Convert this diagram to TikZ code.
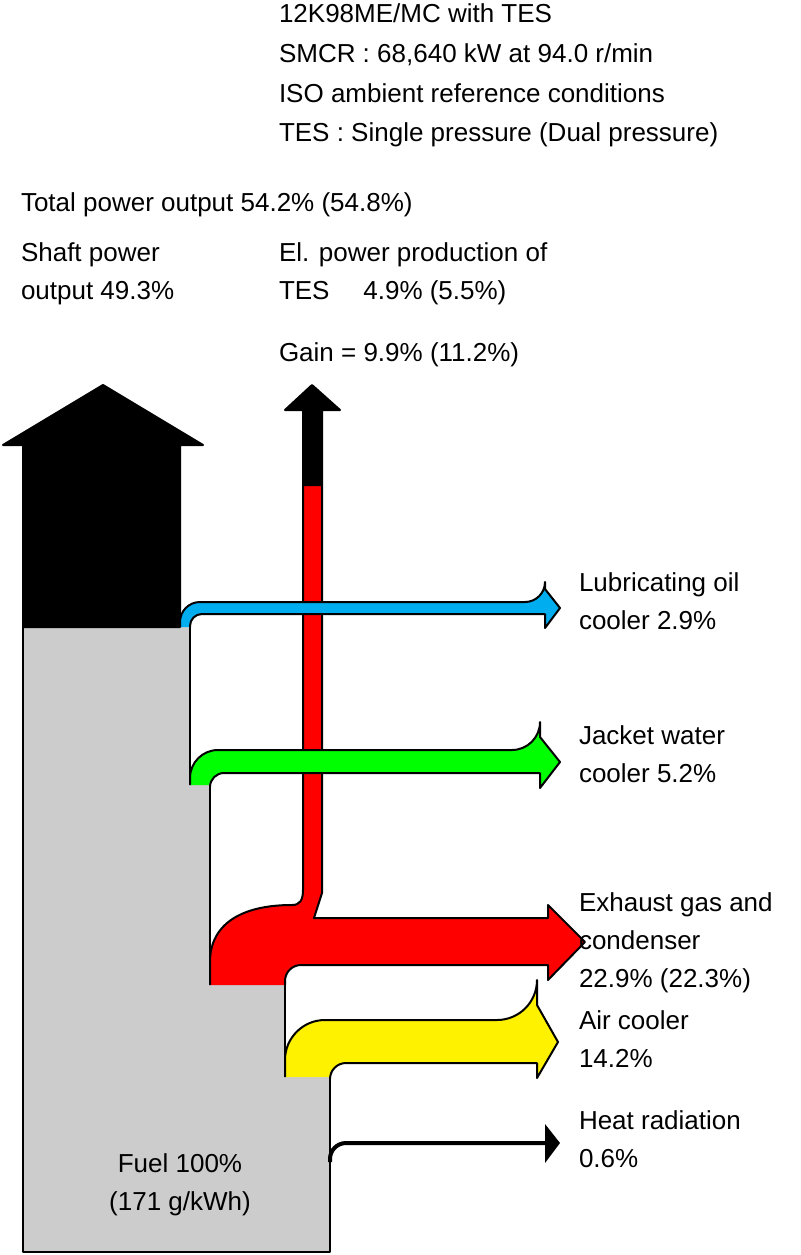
\documentclass[tikz,border=0pt]{standalone}
\usepackage{fontspec}
\setmainfont{Liberation Sans}
\begin{document}
\begin{tikzpicture}[x=0.5pt,y=-0.5pt,line width=1pt,line join=round,
    txt/.style={anchor=north west,inner sep=0pt,align=left,font=\fontsize{13}{19}\selectfont}]
    \useasboundingbox (0,0) rectangle (800,1255);
    % header
    \node[txt] (head) at (278,3) {12K98ME/MC with TES\\[0.8pt]SMCR : 68,640 kW at 94.0 r/min\\[0.8pt]ISO ambient reference conditions\\[0.8pt]TES : Single pressure (Dual pressure)};
    \node[txt] (total) at (20,192) {Total power output 54.2\% (54.8\%)};
    \node[txt] (shaft) at (20,242) {Shaft power\\output 49.3\%};
    \node[txt] (elpow) at (278,242) {El. power production of\\TES\hspace{1.3em}4.9\% (5.5\%)};
    \node[txt] (gain) at (278,342) {Gain = 9.9\% (11.2\%)};
    % fuel body
    \fill[gray!40] (23,627) -- (190,627) -- (190,785) -- (210,785) -- (210,985) -- (285,985)
      -- (285,1077) -- (330,1077) -- (330,1252) -- (23,1252) -- cycle;
    \draw (190,627) -- (190,785);
    \draw (210,785) -- (210,985);
    \draw (285,985) -- (285,1077);
    \draw (330,1077) -- (330,1252) -- (23,1252) -- (23,627);
    % shaft power
    \filldraw (23,627) -- (23,445) -- (3,445) -- (103,385) -- (203,445) -- (180,445) -- (180,627) -- cycle;
    % TES pipe
    \filldraw (303,485) -- (303,410) -- (285,410) -- (312,385) -- (340,410) -- (322,410) -- (322,485) -- cycle;
    \filldraw[fill=red] (210,985) -- (210,962) .. controls (210,925) and (240,905) .. (292,905)
      .. controls (300,905) and (303,900) .. (303,890) -- (303,485) -- (322,485) -- (322,893)
      -- (314,918) -- (548,918) -- (548,905) -- (585,942) -- (548,980) -- (548,965)
      [rounded corners=8pt] -- (285,965) [sharp corners] -- (285,985);
    % lube oil
    \filldraw[fill=cyan] (180,627) [rounded corners=10pt] -- (180,602) -- (545,602) [sharp corners]
      -- (545,589) -- (560,608) -- (545,628) -- (545,614) [rounded corners=6pt] -- (190,614) [sharp corners] -- (190,627);
    % jacket water
    \filldraw[fill=green] (190,785) [rounded corners=14pt] -- (190,750) -- (540,750) [sharp corners]
      -- (540,737) -- (560,762) -- (540,788) -- (540,773) [rounded corners=7pt] -- (210,773) [sharp corners] -- (210,785);
    % air cooler
    \filldraw[fill=yellow] (285,1077) [rounded corners=20pt] -- (285,1020) -- (537,1020) [sharp corners]
      -- (537,1005) -- (558,1042) -- (537,1078) -- (537,1063) [rounded corners=8pt] -- (330,1063) [sharp corners] -- (330,1077);
    % heat radiation
    \draw[line width=2pt,rounded corners=8pt] (330,1162) -- (330,1143) -- (546,1143);
    \fill (545,1124) -- (560,1143) -- (545,1163) -- cycle;
    % labels
    \node[txt] (lube) at (578,572) {Lubricating oil\\cooler 2.9\%};
    \node[txt] (jacket) at (578,725) {Jacket water\\cooler 5.2\%};
    \node[txt] (exh) at (578,892) {Exhaust gas and\\condenser\\22.9\% (22.3\%)};
    \node[txt] (air) at (578,1010) {Air cooler\\14.2\%};
    \node[txt] (heat) at (578,1110) {Heat radiation\\0.6\%};
    \node[txt,align=center,anchor=center] (fuel) at (180,1185) {Fuel 100\%\\(171 g/kWh)};
\end{tikzpicture}
\end{document}
